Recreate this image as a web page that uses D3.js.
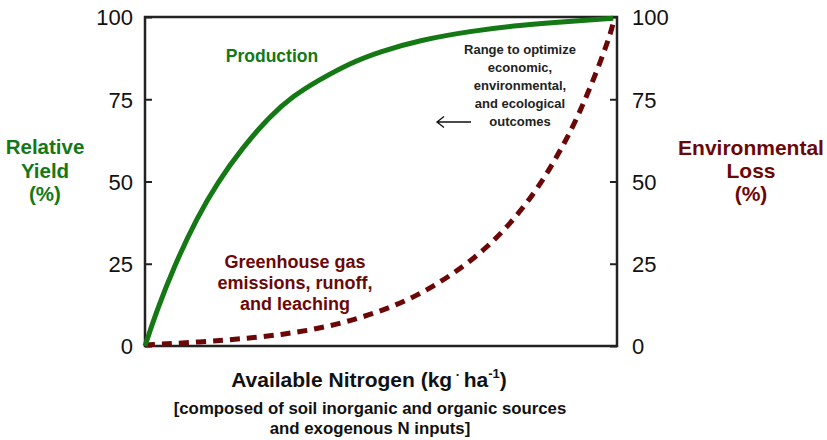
<!DOCTYPE html>
<html>
<head>
<meta charset="utf-8">
<script src="https://cdn.jsdelivr.net/npm/d3@7"></script>
<style>
  body { margin: 0; background: #fff; }
  svg { font-family: "Liberation Sans", Arial, sans-serif; }
</style>
</head>
<body>
<div id="chart"></div>
<script>
// values (x = share of the N range, y = %)
const yieldX = [0, 2.3, 6.1, 11.0, 15.5, 20.5, 26.5, 31.4, 36.4, 43.4, 49.8, 58.3, 68.9, 79.4, 90.0, 99.2];
const yieldY = [0, 10, 24, 39, 50, 60, 70, 76, 80.5, 86, 89.5, 93.0, 95.7, 97.5, 98.7, 99.6];

const lossX = [0, 11.7, 22.2, 29.2, 36.4, 43.4, 50.4, 57.6, 64.6, 71.6, 77.3, 82.6, 86.9, 90.7, 93.6, 96.4, 98.9, 99.4];
const lossY = [0.3, 1.2, 2.4, 3.5, 5.2, 7.6, 10.8, 15.2, 21.2, 28.7, 37.0, 46.6, 56.5, 66.7, 76.0, 86.0, 96.0, 99.8];

const yTicks = [0, 25, 50, 75, 100];

const green = "#147814";
const maroon = "#6c0707";

const width = 827, height = 440;
const plotLeft = 145, plotRight = 617, plotTop = 17, plotBottom = 346;

const svg = d3.select("#chart")
  .append("svg")
  .attr("width", width)
  .attr("height", height);

const x = d3.scaleLinear().domain([0, 100]).range([plotLeft, plotRight]);
const y = d3.scaleLinear().domain([0, 100]).range([plotBottom, plotTop]);

// axes, ticks point inward
const yLeft = d3.axisLeft(y).tickValues(yTicks).tickSizeInner(-7).tickSizeOuter(0).tickPadding(12);
const yRight = d3.axisRight(y).tickValues(yTicks).tickSizeInner(-7).tickSizeOuter(0).tickPadding(15);

[[yLeft, plotLeft], [yRight, plotRight]].forEach(function(a) {
  const g = svg.append("g")
    .attr("transform", "translate(" + a[1] + ",0)")
    .call(a[0]);
  g.select(".domain").remove();
  g.selectAll("line").attr("stroke", "#222").attr("stroke-width", 2);
  g.selectAll("text")
    .attr("fill", "#111")
    .style("font-size", "22px")
    .attr("dy", "0.36em");
});

// frame
svg.append("rect")
  .attr("x", plotLeft)
  .attr("y", plotTop)
  .attr("width", plotRight - plotLeft)
  .attr("height", plotBottom - plotTop)
  .attr("fill", "none")
  .attr("stroke", "#222")
  .attr("stroke-width", 2.5);

const line = d3.line()
  .x(d => x(d[0]))
  .y(d => y(d[1]))
  .curve(d3.curveBasis);

svg.append("path")
  .datum(lossX.map((v, i) => [v, lossY[i]]))
  .attr("d", line)
  .attr("fill", "none")
  .attr("stroke", maroon)
  .attr("stroke-width", 5)
  .attr("stroke-dasharray", "10,7");

svg.append("path")
  .datum(yieldX.map((v, i) => [v, yieldY[i]]))
  .attr("d", line)
  .attr("fill", "none")
  .attr("stroke", green)
  .attr("stroke-width", 5);

function block(lines, cx, y0, step, size, color, weight) {
  const t = svg.append("text")
    .attr("text-anchor", "middle")
    .attr("fill", color)
    .style("font-size", size + "px")
    .style("font-weight", weight || "bold");
  lines.forEach(function(s, i) {
    t.append("tspan").attr("x", cx).attr("y", y0 + i * step).text(s);
  });
  return t;
}

block(["Relative", "Yield", "(%)"], 45, 154, 23.5, 20.5, green);
block(["Environmental", "Loss", "(%)"], 751, 155, 23, 21, maroon);
block(["Production"], 272, 61.5, 0, 17.5, green);
block(["Greenhouse gas", "emissions, runoff,", "and leaching"], 295, 268, 21, 18, maroon);
block(["Range to optimize", "economic,", "environmental,", "and ecological", "outcomes"], 520, 53.5, 18, 13, "#222");

// arrow pointing left
svg.append("path")
  .attr("d", "M471,122H437M444,116.5L437,122L444,127.5")
  .attr("fill", "none")
  .attr("stroke", "#111")
  .attr("stroke-width", 1.3);

// x axis title
const xt = svg.append("text")
  .attr("x", 369)
  .attr("y", 387)
  .attr("text-anchor", "middle")
  .attr("fill", "#111")
  .style("font-size", "21px")
  .style("font-weight", "bold");
xt.append("tspan").text("Available Nitrogen (kg");
xt.append("tspan").attr("dy", -8).style("font-size", "13px").text(" · ");
xt.append("tspan").attr("dy", 8).text("ha");
xt.append("tspan").attr("dy", -9).style("font-size", "13px").text("-1");
xt.append("tspan").attr("dy", 9).text(")");

block(["[composed of soil inorganic and organic sources", "and exogenous N inputs]"], 370, 413.5, 20, 16.8, "#111");
</script>
</body>
</html>
